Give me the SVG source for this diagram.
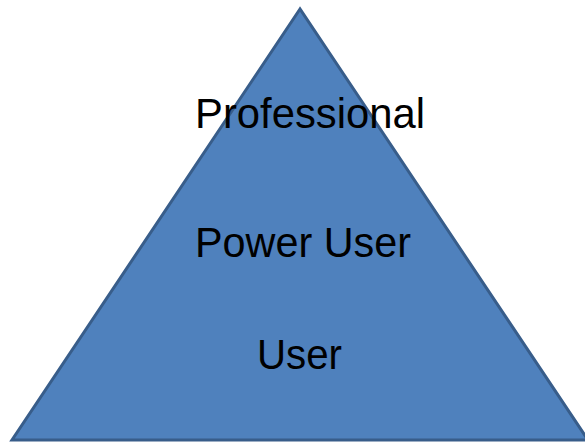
<svg xmlns="http://www.w3.org/2000/svg" width="585" height="443" viewBox="0 0 585 443">
<style>
.lbl{font-family:"Liberation Sans","Open Sans",Arial,sans-serif;font-size:43px;fill:#000}
</style>
<rect width="585" height="443" fill="#fff"/>
<g id="pyramid">
<polygon points="300,9 12,440 588,440" fill="#4f81bd" stroke="#385d8a" stroke-width="3" stroke-linejoin="miter"/>
</g>
<g id="professional"><text class="lbl" x="195" y="128" textLength="230" lengthAdjust="spacingAndGlyphs">Professional</text></g>
<g id="power-user"><text class="lbl" x="195" y="257" textLength="216" lengthAdjust="spacingAndGlyphs">Power User</text></g>
<g id="user"><text class="lbl" x="257" y="369" textLength="85" lengthAdjust="spacingAndGlyphs">User</text></g>
</svg>
